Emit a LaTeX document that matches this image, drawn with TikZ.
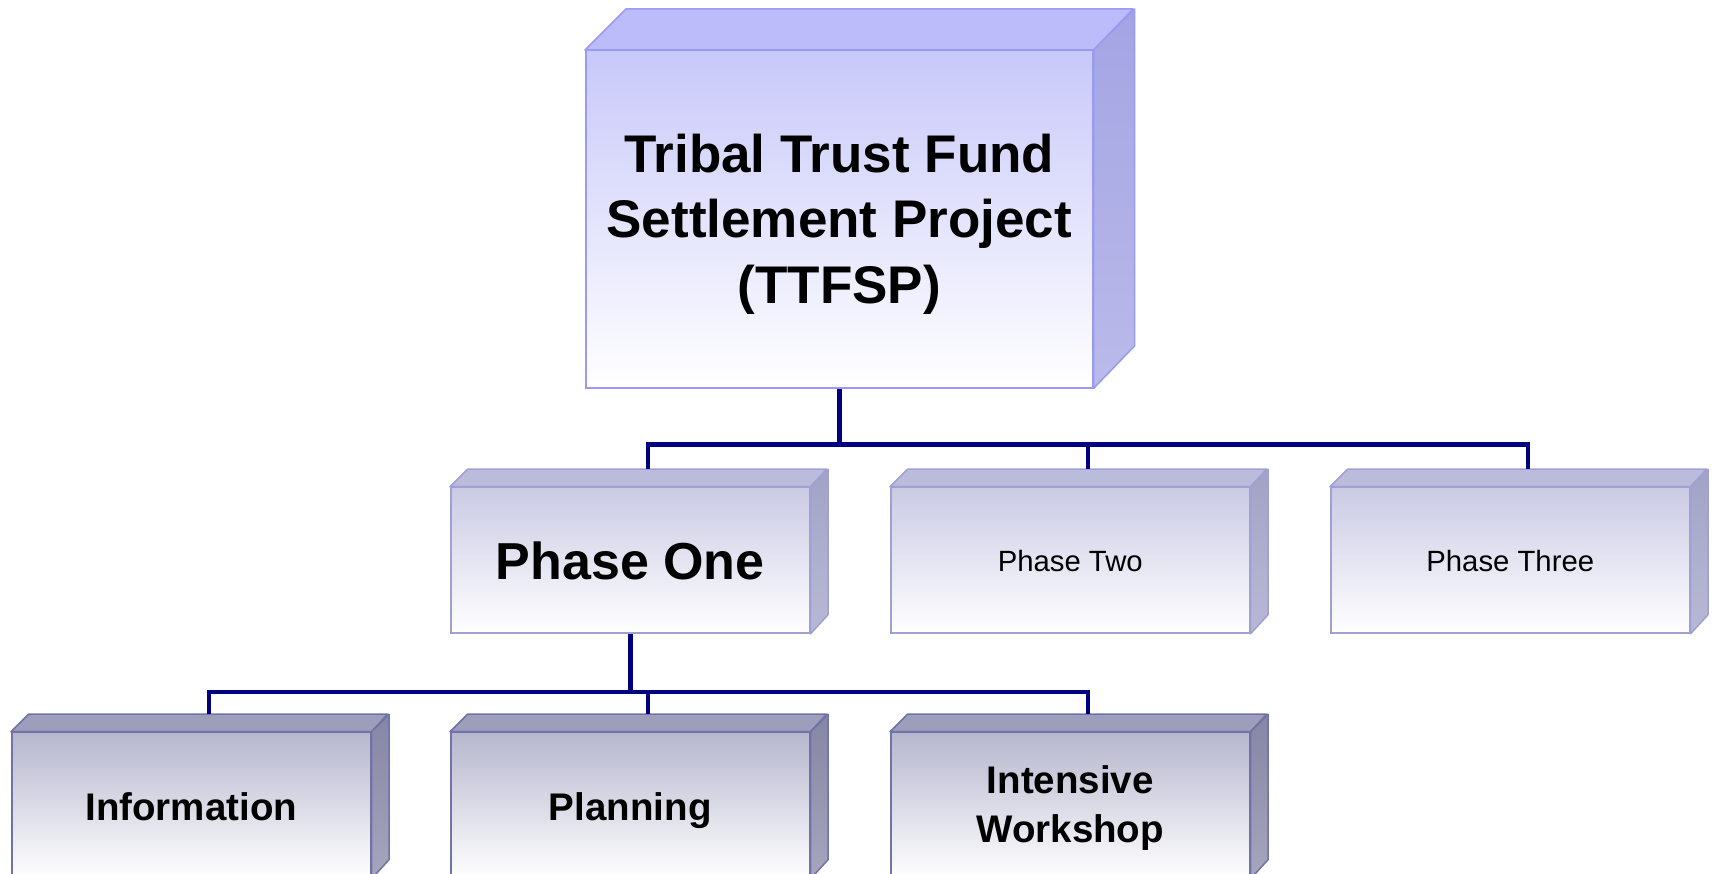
\documentclass[tikz,border=0pt]{standalone}
\usepackage{fontspec}
\setmainfont{Liberation Sans}
\definecolor{frA}{HTML}{C8C8FA}
\definecolor{tpA}{HTML}{BCBCFA}
\definecolor{sdA}{HTML}{A4A4E4}
\definecolor{sdAb}{HTML}{BABAEA}
\definecolor{bdA}{HTML}{9A9AF2}
\definecolor{frB}{HTML}{CACAE4}
\definecolor{tpB}{HTML}{BBBBDC}
\definecolor{sdB}{HTML}{A2A2C6}
\definecolor{sdBb}{HTML}{B9B9D6}
\definecolor{bdB}{HTML}{A0A0D4}
\definecolor{frC}{HTML}{B6B6CE}
\definecolor{tpC}{HTML}{9D9DBC}
\definecolor{sdC}{HTML}{8585A5}
\definecolor{sdCb}{HTML}{A6A6BE}
\definecolor{bdC}{HTML}{7272A6}
\definecolor{navy}{HTML}{000080}
\tikzset{
  frontA/.style={draw=bdA, line width=1.5pt, top color=frA, bottom color=white, inner sep=0pt, anchor=north west},
  frontB/.style={draw=bdB, line width=1.5pt, top color=frB, bottom color=white, inner sep=0pt, anchor=north west},
  frontC/.style={draw=bdC, line width=1.5pt, top color=frC, bottom color=white, inner sep=0pt, anchor=north west},
  faceA/.style={draw=bdA, line width=1.5pt, fill=tpA, line join=round},
  faceB/.style={draw=bdB, line width=1.5pt, fill=tpB, line join=round},
  faceC/.style={draw=bdC, line width=1.5pt, fill=tpC, line join=round},
  sideA/.style={draw=bdA, line width=1.5pt, top color=sdA, bottom color=sdAb, line join=round},
  sideB/.style={draw=bdB, line width=1.5pt, top color=sdB, bottom color=sdBb, line join=round},
  sideC/.style={draw=bdC, line width=1.5pt, top color=sdC, bottom color=sdCb, line join=round},
  conn/.style={draw=navy, line width=4.5pt, line join=miter},
  lbl/.style={inner sep=0pt, align=center},
  bigtxt/.style={lbl, font=\bfseries\fontsize{53}{65.5}\selectfont, yshift=-5pt},
  midtxt/.style={lbl, font=\bfseries\fontsize{52}{62}\selectfont, text depth=0pt},
  lowtxt/.style={lbl, font=\bfseries\fontsize{38.5}{49}\selectfont, text height=28pt, text depth=0pt, yshift=-1pt},
  lowtwo/.style={lbl, font=\bfseries\fontsize{38.5}{49}\selectfont, yshift=-3pt},
  thintxt/.style={lbl, font=\fontsize{29.3}{35}\selectfont, text height=21.5pt, text depth=0pt},
}
% #1 name, #2 x, #3 y, #4 width, #5 height, #6 depth, #7 kind, #8 text style, #9 text
\newcommand{\prismbox}[9]{%
  \node[front#7, minimum width=#4pt, minimum height=#5pt] (#1) at (#2,#3) {};
  \path[face#7] (#1.north west) -- ++(#6,-#6) -- ++(#4,0) -- (#1.north east) -- cycle;
  \path[side#7] (#1.north east) -- ++(#6,-#6) -- ++(0,#5) -- (#1.south east) -- cycle;
  \node[#8] (#1-l) at (#1.center) {#9};
  \coordinate (#1-t) at ([shift={(#6,-#6)}]#1.north);
}
\begin{document}
\begin{tikzpicture}[x=1pt,y=-1pt]
\useasboundingbox (0,0) rectangle (1712,874);
\clip (0,0) rectangle (1712,874);
\fill[white] (0,0) rectangle (1712,874);
% top box
\prismbox{root}{585}{50}{507}{337}{41}{A}{bigtxt}{Tribal Trust Fund\\Settlement Project\\(TTFSP)}
% phase row
\prismbox{p1}{450}{486.7}{359}{145.6}{17.5}{B}{midtxt}{Phase One}
\prismbox{p2}{890}{486.7}{359}{145.6}{17.5}{B}{thintxt}{Phase Two}
\prismbox{p3}{1330}{486.7}{359}{145.6}{17.5}{B}{thintxt}{Phase Three}
% bottom row
\prismbox{b1}{11}{731.7}{359}{145.6}{17.5}{C}{lowtxt}{Information}
\prismbox{b2}{450}{731.7}{359}{145.6}{17.5}{C}{lowtxt}{Planning}
\prismbox{b3}{890}{731.7}{359}{145.6}{17.5}{C}{lowtwo}{Intensive\\Workshop}
% connectors
\draw[conn] (root.south) -- ++(0,56) coordinate (j1);
\draw[conn] (p1-t) |- (j1) -| (p3-t);
\draw[conn] (j1) -| (p2-t);
\draw[conn] (p1.south) -- ++(0,58) coordinate (j2);
\draw[conn] (b1-t) |- (j2) -| (b3-t);
\draw[conn] (j2) -| (b2-t);
\end{tikzpicture}
\end{document}
